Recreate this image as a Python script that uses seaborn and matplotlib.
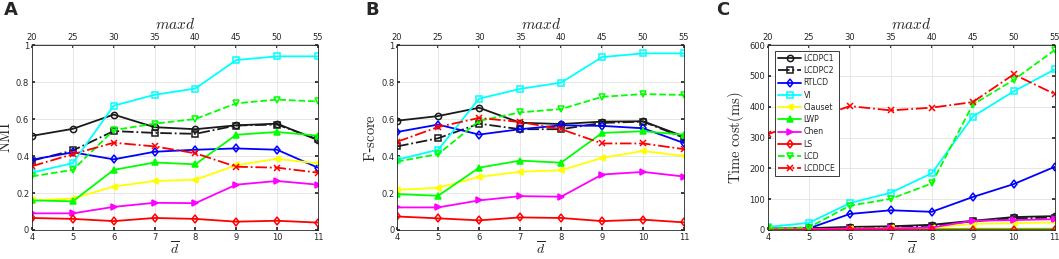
import numpy as np
import pandas as pd
import matplotlib
matplotlib.use("Agg")
import matplotlib.pyplot as plt
import seaborn as sns

# ---------------------------------------------------------------------
# Datos
# ---------------------------------------------------------------------
dbar = [4, 5, 6, 7, 8, 9, 10, 11]
methods = ["LCDPC1", "LCDPC2", "RTLCD", "VI", "Clauset", "LWP", "Chen", "LS", "LCD", "LCDDCE"]

nmi = {
    "LCDPC1": [0.509, 0.547, 0.624, 0.556, 0.545, 0.566, 0.575, 0.486],
    "LCDPC2": [0.375, 0.430, 0.535, 0.525, 0.520, 0.565, 0.570, 0.490],
    "RTLCD": [0.380, 0.420, 0.382, 0.423, 0.434, 0.441, 0.434, 0.337],
    "VI": [0.310, 0.362, 0.672, 0.731, 0.765, 0.919, 0.939, 0.939],
    "Clauset": [0.160, 0.170, 0.235, 0.265, 0.272, 0.350, 0.385, 0.360],
    "LWP": [0.160, 0.155, 0.325, 0.365, 0.355, 0.515, 0.530, 0.510],
    "Chen": [0.090, 0.090, 0.125, 0.147, 0.145, 0.245, 0.265, 0.245],
    "LS": [0.065, 0.060, 0.048, 0.065, 0.060, 0.045, 0.050, 0.040],
    "LCD": [0.290, 0.325, 0.540, 0.575, 0.600, 0.685, 0.705, 0.695],
    "LCDDCE": [0.345, 0.410, 0.472, 0.452, 0.415, 0.342, 0.337, 0.310],
}

fscore = {
    "LCDPC1": [0.591, 0.616, 0.661, 0.580, 0.573, 0.586, 0.588, 0.505],
    "LCDPC2": [0.452, 0.496, 0.575, 0.545, 0.545, 0.579, 0.586, 0.498],
    "RTLCD": [0.530, 0.570, 0.516, 0.545, 0.566, 0.563, 0.550, 0.470],
    "VI": [0.380, 0.434, 0.710, 0.763, 0.797, 0.935, 0.955, 0.955],
    "Clauset": [0.217, 0.228, 0.287, 0.315, 0.323, 0.390, 0.427, 0.400],
    "LWP": [0.194, 0.185, 0.337, 0.375, 0.364, 0.525, 0.534, 0.515],
    "Chen": [0.122, 0.122, 0.160, 0.183, 0.180, 0.300, 0.314, 0.289],
    "LS": [0.073, 0.063, 0.052, 0.068, 0.065, 0.048, 0.056, 0.041],
    "LCD": [0.370, 0.410, 0.590, 0.636, 0.654, 0.720, 0.735, 0.730],
    "LCDDCE": [0.477, 0.557, 0.606, 0.584, 0.545, 0.468, 0.468, 0.437],
}

time_ms = {
    "LCDPC1": [5, 6, 10, 12, 17, 30, 42, 45],
    "LCDPC2": [3, 5, 8, 10, 14, 28, 38, 40],
    "RTLCD": [2, 5, 52, 64, 59, 107, 149, 205],
    "VI": [10, 23, 87, 121, 184, 368, 450, 521],
    "Clauset": [2, 3, 4, 5, 7, 20, 22, 25],
    "LWP": [2, 3, 3, 3, 3, 4, 4, 4],
    "Chen": [2, 3, 4, 5, 8, 30, 32, 35],
    "LS": [1, 1, 1, 1, 1, 1, 1, 1],
    "LCD": [5, 8, 79, 101, 151, 407, 487, 584],
    "LCDDCE": [311, 355, 402, 388, 397, 415, 505, 441],
}

# ---------------------------------------------------------------------
# Estilos tipo MATLAB
# ---------------------------------------------------------------------
styles = {
    "LCDPC1": dict(color="k", ls="-", marker="o", mfc="none"),
    "LCDPC2": dict(color="k", ls="-.", marker="s", mfc="none"),
    "RTLCD": dict(color="#0000ff", ls="-", marker="d", mfc="none"),
    "VI": dict(color="#00ffff", ls="-", marker="s", mfc="none"),
    "Clauset": dict(color="#ffff00", ls="-", marker="<", mfc=None),
    "LWP": dict(color="#00ff00", ls="-", marker="^", mfc=None),
    "Chen": dict(color="#ff00ff", ls="-", marker=">", mfc=None),
    "LS": dict(color="#ff0000", ls="-", marker="d", mfc="none"),
    "LCD": dict(color="#00ff00", ls="--", marker="v", mfc="none"),
    "LCDDCE": dict(color="#ff0000", ls="-.", marker="x", mfc=None),
}

sns.set_theme(style="whitegrid")
plt.rcParams["mathtext.fontset"] = "cm"
plt.rcParams["font.family"] = ["DejaVu Sans"]


def draw_panel(ax, data, ylabel, ylim, yticks, ytlabels):
    for m in methods:
        st = styles[m]
        mfc = st["mfc"] if st["mfc"] is not None else st["color"]
        sns.lineplot(x=dbar, y=data[m], ax=ax, color=st["color"], linestyle=st["ls"],
                     marker=st["marker"], markersize=4.5, markerfacecolor=mfc,
                     markeredgecolor=st["color"], markeredgewidth=1.1,
                     linewidth=1.3, label=m, legend=False)
    ax.set_xlim(4, 11)
    ax.set_ylim(*ylim)
    ax.set_xticks(dbar)
    ax.set_yticks(yticks)
    ax.set_yticklabels(ytlabels)
    ax.tick_params(axis="both", labelsize=6, colors="#262626", direction="in",
                   length=2.5, pad=2, right=True, left=True, bottom=True)
    ax.grid(True, color="#e3e3e3", linewidth=0.6)
    for sp in ax.spines.values():
        sp.set_color("#262626")
        sp.set_linewidth(0.6)
    ax.set_xlabel(r"$\overline{d}$", fontsize=10, labelpad=-1)
    ax.set_ylabel(ylabel, fontsize=10.5, labelpad=2)
    top = ax.secondary_xaxis("top", functions=(lambda d: 5 * d, lambda m: m / 5))
    top.set_xticks([20, 25, 30, 35, 40, 45, 50, 55])
    top.tick_params(labelsize=6, colors="#262626", direction="in", length=2.5, pad=2)
    top.set_xlabel(r"$maxd$", fontsize=11, labelpad=3)


fig = plt.figure(figsize=(10.59, 2.59), dpi=100)
axA = fig.add_axes([0.0302, 0.112, 0.270, 0.714])
axB = fig.add_axes([0.375, 0.112, 0.271, 0.714])
axC = fig.add_axes([0.725, 0.112, 0.271, 0.714])

yt01 = [0, 0.2, 0.4, 0.6, 0.8, 1]
yl01 = ["0", "0.2", "0.4", "0.6", "0.8", "1"]
draw_panel(axA, nmi, r"$\mathrm{NMI}$", (0, 1), yt01, yl01)
draw_panel(axB, fscore, r"$\mathrm{F}$-$\mathrm{score}$", (0, 1), yt01, yl01)
ytC = [0, 100, 200, 300, 400, 500, 600]
draw_panel(axC, time_ms, r"$\mathrm{Time\ cost(ms)}$", (0, 600), ytC, [str(v) for v in ytC])

leg = axC.legend(loc="upper left", bbox_to_anchor=(0.025, 0.97), fontsize=5.6,
                 frameon=True, fancybox=False, edgecolor="k", framealpha=1,
                 labelspacing=0.42, handlelength=3.0, handletextpad=0.3,
                 borderpad=0.4, borderaxespad=0)
leg.get_frame().set_linewidth(0.6)

for lab, x in [("A", 0.004), ("B", 0.345), ("C", 0.676)]:
    fig.text(x, 0.995, lab, fontsize=13, fontweight="bold", va="top", ha="left")

fig.savefig("out.png", dpi=100)
